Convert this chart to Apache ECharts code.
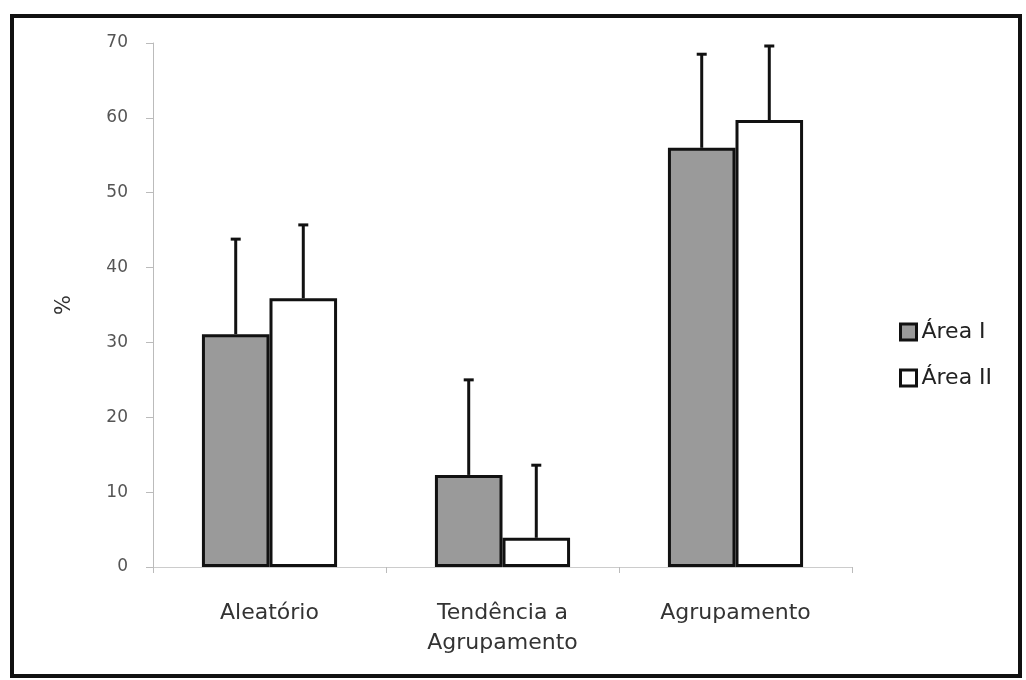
<!DOCTYPE html>
<html>
<head>
<meta charset="utf-8">
<script src="https://cdn.jsdelivr.net/npm/echarts@6/dist/echarts.min.js"></script>
<style>html,body{margin:0;padding:0;background:#fff;}#c{width:1026px;height:680px;}</style>
</head>
<body>
<div id="c"></div>
<script>
const categories = ['Aleatório', 'Tendência a\nAgrupamento', 'Agrupamento'];
const seriesNames = ['Área I', 'Área II'];
const areaI = [31.1, 12.3, 56.0];
const areaII = [35.9, 3.9, 59.7];
const areaIErrTop = [43.8, 25.0, 68.5];
const areaIIErrTop = [45.7, 13.6, 69.6];
const yTicks = [0, 10, 20, 30, 40, 50, 60, 70];

const BAR_FRAC = 0.29;
const chart = echarts.init(document.getElementById('c'), null, {renderer: 'canvas'});

function errRender(sign) {
  return function (params, api) {
    const idx = api.value(0);
    const low = api.value(1);
    const high = api.value(2);
    const band = api.size([1, 0])[0];
    const off = sign * band * BAR_FRAC / 2;
    const p0 = api.coord([idx, low]);
    const p1 = api.coord([idx, high]);
    const x = p0[0] + off;
    const style = {stroke: '#111', lineWidth: 3};
    return {
      type: 'group',
      children: [
        {type: 'line', shape: {x1: x, y1: p0[1], x2: x, y2: p1[1]}, style: style},
        {type: 'line', shape: {x1: x - 5, y1: p1[1], x2: x + 5, y2: p1[1]}, style: style}
      ]
    };
  };
}

const option = {
  backgroundColor: '#fff',
  animation: false,
  graphic: [{
    type: 'rect',
    shape: {x: 12, y: 16, width: 1008, height: 660},
    style: {fill: 'none', stroke: '#111', lineWidth: 4},
    z: 100
  }],
  grid: {left: 153, right: 174, top: 43, bottom: 113},
  legend: {
    orient: 'vertical',
    left: 894,
    top: 316,
    itemWidth: 16,
    itemHeight: 16,
    itemGap: 24,
    icon: 'rect',
    data: seriesNames,
    textStyle: {fontFamily: 'DejaVu Sans, sans-serif', fontSize: 22, color: '#222', padding: [0, 0, 0, 0]},
    itemStyle: {borderColor: '#111', borderWidth: 3}
  },
  xAxis: {
    type: 'category',
    data: categories,
    axisLine: {lineStyle: {color: '#ccc', width: 1}},
    axisTick: {show: true, length: 6, lineStyle: {color: '#bbb'}},
    axisLabel: {
      fontFamily: 'DejaVu Sans, sans-serif',
      fontSize: 22, color: '#333', margin: 31, lineHeight: 30
    }
  },
  yAxis: {
    type: 'value',
    min: 0, max: 70, interval: 10,
    name: '%',
    nameLocation: 'middle',
    nameGap: 78,
    nameRotate: 90,
    nameTextStyle: {fontFamily: 'DejaVu Sans, sans-serif', fontSize: 21, color: '#333'},
    splitLine: {show: false},
    axisLine: {show: true, lineStyle: {color: '#bbb', width: 1}},
    axisTick: {show: true, length: 7, lineStyle: {color: '#bbb'}},
    axisLabel: {
      fontFamily: 'DejaVu Sans, sans-serif',
      fontSize: 17, color: '#555', margin: 25,
      formatter: function (v) { return yTicks.indexOf(v) >= 0 ? String(v) : ''; }
    }
  },
  series: [
    {
      name: seriesNames[0], type: 'bar', data: areaI,
      barWidth: (BAR_FRAC * 100) + '%', barGap: '0%',
      itemStyle: {color: '#9a9a9a', borderColor: '#111', borderWidth: 3},
      z: 2
    },
    {
      name: seriesNames[1], type: 'bar', data: areaII,
      barWidth: (BAR_FRAC * 100) + '%', barGap: '0%',
      itemStyle: {color: '#ffffff', borderColor: '#111', borderWidth: 3},
      z: 2
    },
    {
      type: 'custom', name: 'errI', renderItem: errRender(-1),
      data: areaI.map((v, i) => [i, v, areaIErrTop[i]]), z: 1, silent: true
    },
    {
      type: 'custom', name: 'errII', renderItem: errRender(1),
      data: areaII.map((v, i) => [i, v, areaIIErrTop[i]]), z: 1, silent: true
    }
  ]
};
chart.setOption(option);
</script>
</body>
</html>
